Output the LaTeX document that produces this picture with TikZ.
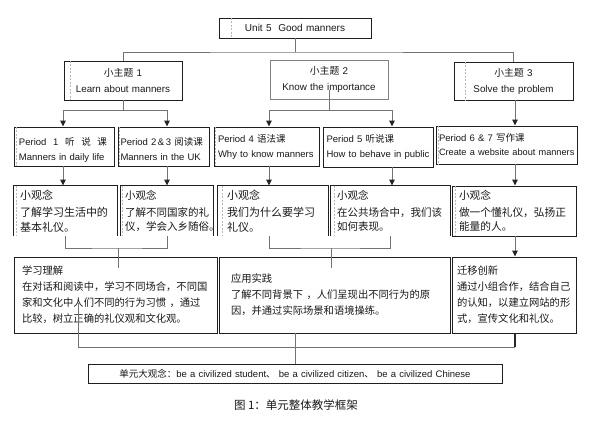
\documentclass[tikz,border=0pt]{standalone}
\usepackage{fontspec}
\setmainfont{Liberation Sans}
\newfontfamily\cjk{Noto Sans CJK SC}
\usetikzlibrary{arrows.meta}
\newcommand\myfs[2]{\fontsize{#1pt}{#2pt}\selectfont}
\begin{document}
\begin{tikzpicture}[x=1pt,y=-1pt,
  box/.style={draw=black!88, line width=0.9pt, inner xsep=4pt, inner ysep=0pt, align=left, text=black!90},
  cbox/.style={box, align=center},
  obox/.style={box, draw=none},
  edge/.style={draw=black!88, line width=0.9pt},
  conn/.style={draw=black!55, line width=1pt},
  arr/.style={conn, -{Triangle[width=5.5pt,length=6pt,color=black!85]}},
  ghost/.style={draw=black!28, line width=0.4pt, dash pattern=on 2pt off 1.5pt},
  pfont/.style={font=\myfs{9.5}{15}},
  cfont/.style={font=\cjk\myfs{10.5}{14.5}},
  bfont/.style={font=\cjk\myfs{10.3}{16}},
]
\useasboundingbox[fill=white] (0,0) rectangle (590,421);

% top
\node[cbox, minimum width=152, minimum height=20, text width=144, font=\myfs{10}{12}] (top) at (295,28) {Unit 5\ \ Good manners};

% themes
\node[cbox, minimum width=118, minimum height=39, text width=110, font=\myfs{9.8}{16}] (t1) at (123,80.5) {{\cjk 小主题} 1\\Learn about manners};
\node[cbox, draw=black!50, minimum width=118, minimum height=39, text width=110, font=\myfs{9.8}{16}] (t2) at (329,79.5) {{\cjk 小主题} 2\\Know the importance};
\node[cbox, minimum width=119, minimum height=38, text width=111, font=\myfs{9.8}{16}] (t3) at (513.5,81) {{\cjk 小主题} 3\\Solve the problem};

% periods
\node[box, pfont, minimum width=100, minimum height=39, inner xsep=5pt, text width=90] (P1) at (64,146.5) {\rule{0pt}{14pt}\makebox[88pt][s]{Period\hfil 1\hfil{\cjk 听\hfil 说\hfil 课}}\\\mbox{Manners in daily life}};
\node[box, pfont, minimum width=91, minimum height=39, inner xsep=2.5pt, text width=86] (P2) at (163.5,146.5) {\rule{0pt}{14pt}\mbox{Period 2\,\&\,3 {\cjk 阅读课}}\\\mbox{Manners in the UK}};
\node[box, pfont, minimum width=105, minimum height=39, inner xsep=4pt, text width=97] (P4) at (266.5,146.5) {\mbox{Period 4 {\cjk 语法课}}\\\mbox{Why to know manners}};
\node[box, pfont, minimum width=110, minimum height=40, inner xsep=3.5pt, text width=103] (P5) at (378,147) {\mbox{Period 5 {\cjk 听说课}}\\\mbox{How to behave in public}};
\node[box, font=\myfs{9.5}{14}, minimum width=141, minimum height=38, inner xsep=3pt, text width=135] (P6) at (506.5,145) {\mbox{Period 6 \& 7 {\cjk 写作课}}\\\mbox{\myfs{9.2}{14}Create a website about manners}};

% small concepts
\node[obox, font=\cjk\myfs{11}{14.5}, minimum width=103, minimum height=50, inner xsep=6pt, text width=91] (C1) at (65.5,211) {小观念\\[2.5pt]了解学习生活中的\\基本礼仪。};
\node[obox, cfont, minimum width=92, minimum height=50, inner xsep=4pt, text width=84] (C2) at (167,211) {小观念\\[2.5pt]了解不同国家的礼\\仪，学会入乡随俗。};
\node[obox, font=\cjk\myfs{11}{14.5}, minimum width=110, minimum height=50, inner xsep=9pt, text width=92] (C3) at (273,211) {小观念\\[2.5pt]我们为什么要学习\\礼仪。};
\node[obox, cfont, minimum width=119, minimum height=50, inner xsep=6pt, text width=107] (C4) at (390.5,211) {小观念\\[2.5pt]在公共场合中，我们该\\如何表现。};
\node[box, font=\cjk\myfs{10.7}{14.5}, minimum width=124, minimum height=50, inner xsep=7pt, text width=110] (C5) at (514,211) {小观念\\[2.5pt]做一个懂礼仪，弘扬正\\能量的人。};
\foreach \c in {C1,C2,C3,C4}
  \draw[edge] (\c.south west) -- (\c.north west) -- (\c.north east) -- (\c.south east);

% bottom boxes
\node[box, bfont, minimum width=203, minimum height=76, inner xsep=8pt, text width=187] (B1) at (115.5,295) {学习理解\\在对话和阅读中，学习不同场合，不同国\\家和文化中人们不同的行为习惯 ，通过\\比较，树立正确的礼仪观和文化观。};
\node[box, bfont, minimum width=231, minimum height=76, inner xsep=12pt, text width=207] (B2) at (334.5,295) {应用实践\\了解不同背景下 ，人们呈现出不同行为的原\\因，并通过实际场景和语境操练。};
\node[box, bfont, minimum width=124, minimum height=76, inner xsep=5pt, text width=114] (B3) at (514,295) {迁移创新\\通过小组合作，结合自己\\的认知，以建立网站的形\\式，宣传文化和礼仪。};

% final
\node[cbox, minimum width=414, minimum height=19, text width=406, font=\myfs{9.5}{12}] (fin) at (295,373.5) {{\cjk 单元大观念：}be a civilized student{\cjk 、} be a civilized citizen{\cjk 、} be a civilized Chinese};

\node[font=\cjk\myfs{11.5}{14}, text=black!90] (cap) at (296,405) {图 1：单元整体教学框架};

% ghost dashed lines
\foreach \n/\o in {top/13,t1/7,t3/12,P1/3,P2/2,P4/2,P6/3,C1/3,C2/2,C3/5,C4/4,C5/4}
  \draw[ghost] ([xshift=\o pt]\n.north west) -- ([xshift=\o pt]\n.south west);

% column coordinates
\coordinate (X1) at (63,0);
\coordinate (X2) at (167,0);
\coordinate (X3) at (269,0);
\coordinate (X4) at (392,0);
\coordinate (X5) at (515,0);

% top tree
\coordinate (j0) at (295,52);
\draw[conn] (top.south) -- (j0);
\draw[conn] (t1.north) |- (j0) -| (t3.north);

\coordinate (j1) at (123,110);
\draw[conn] (t1.south) -- (j1);
\draw[arr] (j1) -| (X1 |- P1.north);
\draw[arr] (j1) -| (X2 |- P2.north);

\coordinate (j2) at (329,110);
\draw[conn] ([yshift=9pt]t2.south) -- (j2);
\draw[arr] (j2) -| (X3 |- P4.north);
\draw[arr] (j2) -| (X4 |- P5.north);

\draw[arr] (X5 |- t3.south) -- (X5 |- P6.north);

% periods to concepts
\draw[arr] (X1 |- P1.south) -- (X1 |- C1.north);
\draw[arr] (X2 |- P2.south) -- (X2 |- C2.north);
\draw[arr] (X3 |- P4.south) -- (X3 |- C3.north);
\draw[arr] (X4 |- P5.south) -- (X4 |- C4.north);
\draw[arr] (X5 |- P6.south) -- (X5 |- C5.north);

% concepts to bottom boxes
\coordinate (k1) at (118,248);
\coordinate (k1e) at (118,268);
\draw[conn] (C1.south) |- (k1) -| (C2.south);
\draw[conn] (k1) -- (k1e);
\coordinate (k2) at (331,248);
\coordinate (k2e) at (331,268);
\draw[conn] (X3 |- C3.south) |- (k2) -| (C4.south);
\draw[conn] (k2) -- (k2e);
\draw[arr] (X5 |- C5.south) -- (X5 |- B3.north);

% bottom boxes to final
\coordinate (m1) at (78,303);
\coordinate (m2) at (78,347);
\coordinate (m3) at (515,347);
\draw[conn] (m1) -- (m2) -- (m3);
\draw[draw=black!85, line width=1.5pt] (X5 |- B3.south) -- (m3);
\draw[conn] (fin.north |- B2.south) -- (fin.north);
\end{tikzpicture}
\end{document}
